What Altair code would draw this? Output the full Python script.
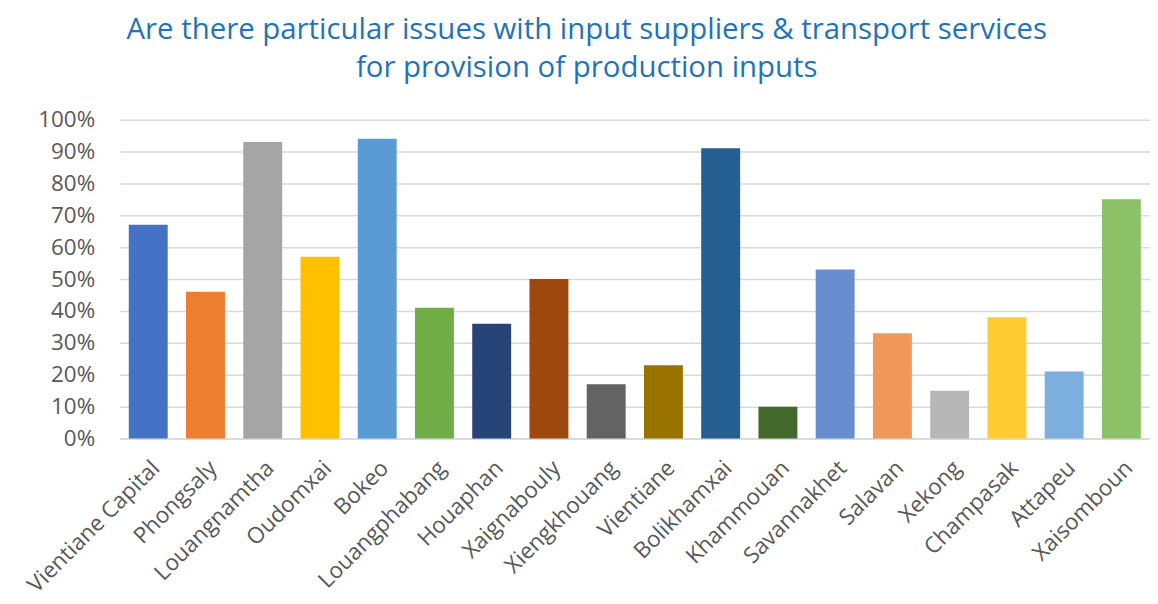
import altair as alt
import pandas as pd

provinces = ["Vientiane Capital", "Phongsaly", "Louangnamtha", "Oudomxai", "Bokeo",
             "Louangphabang", "Houaphan", "Xaignabouly", "Xiengkhouang", "Vientiane",
             "Bolikhamxai", "Khammouan", "Savannakhet", "Salavan", "Xekong",
             "Champasak", "Attapeu", "Xaisomboun"]
values = [0.67, 0.46, 0.93, 0.57, 0.94, 0.41, 0.36, 0.50, 0.17, 0.23,
          0.91, 0.10, 0.53, 0.33, 0.15, 0.38, 0.21, 0.75]
colors = ["#4472C4", "#ED7D31", "#A5A5A5", "#FFC000", "#5B9BD5", "#70AD47",
          "#264478", "#9E480E", "#636363", "#997300", "#255E91", "#43682B",
          "#698ED0", "#F1975A", "#B7B7B7", "#FFCD33", "#7CAFDD", "#8CC168"]
y_ticks = [0.0, 0.1, 0.2, 0.3, 0.4, 0.5, 0.6, 0.7, 0.8, 0.9, 1.0]

df = pd.DataFrame({"province": provinces, "value": values})

chart = alt.Chart(df).mark_bar().encode(
    x=alt.X("province:N", sort=provinces, title=None,
            scale=alt.Scale(paddingInner=0.32, paddingOuter=0.16),
            axis=alt.Axis(labelAngle=-45, labelAlign="right", labelBaseline="top",
                          labelFontSize=22.5, labelColor="#595959", labelFont="Open Sans",
                          ticks=False, domainColor="#D9D9D9", domainWidth=1.5,
                          labelPadding=18, labelOverlap=False)),
    y=alt.Y("value:Q", title=None,
            scale=alt.Scale(domain=[0, 1]),
            axis=alt.Axis(format=".0%", values=y_ticks,
                          labelFontSize=22.5, labelColor="#595959", labelFont="Open Sans",
                          ticks=False, domain=False, gridColor="#D9D9D9", gridWidth=1.5,
                          labelPadding=25)),
    color=alt.Color("province:N", sort=provinces,
                    scale=alt.Scale(domain=provinces, range=colors), legend=None),
).properties(
    width=1034,
    height=320,
    padding={"left": 15, "top": 6, "right": 0, "bottom": 0},
    title=alt.TitleParams(
        text=["Are there particular issues with input suppliers & transport services",
              "for provision of production inputs"],
        font="Open Sans", fontSize=29.5, fontWeight="normal", color="#1F73B9",
        lineHeight=38, anchor="middle", frame="bounds", offset=25),
).configure_view(stroke=None)

chart.save("out.html", embed_options={"renderer": "svg", "actions": False})
